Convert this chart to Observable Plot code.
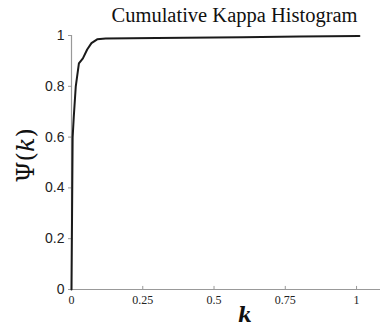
<!DOCTYPE html>
<html><head><meta charset="utf-8">
<script src="https://cdn.jsdelivr.net/npm/d3@7"></script>
<script src="https://cdn.jsdelivr.net/npm/@observablehq/plot@0.6"></script>
<style>body{margin:0;background:#fff}</style>
</head><body><div id="chart"></div>
<script>
const kappa = [0, 0.002, 0.004, 0.008, 0.015, 0.026, 0.04, 0.055, 0.07, 0.09, 0.12, 0.3, 0.6, 0.8, 1.01];
const psi   = [0, 0.3, 0.6, 0.68, 0.8, 0.89, 0.91, 0.945, 0.97, 0.985, 0.988, 0.99, 0.993, 0.996, 0.998];
const xTicks = [0, 0.25, 0.5, 0.75, 1];
const xTickLabels = ["0", "0.25", "0.5", "0.75", "1"];
const yTicks = [0, 0.2, 0.4, 0.6, 0.8, 1];
const yTickLabels = ["0", "0.2", "0.4", "0.6", "0.8", "1"];
const title = "Cumulative Kappa Histogram";
const yLabel = "Ψ(k)";
const xLabel = "k";
const data = kappa.map((k, i) => ({k, p: psi[i]}));

const chart = Plot.plot({
  width: 380, height: 327,
  marginLeft: 71, marginRight: 0, marginTop: 35, marginBottom: 38,
  x: {type: "linear", domain: [0, 1.084]},
  y: {type: "linear", domain: [0, 1]},
  marks: [
    Plot.ruleY([0], {stroke: "#999", strokeWidth: 1.2}),
    Plot.ruleX([0], {stroke: "#999", strokeWidth: 1.2}),
    Plot.ruleX(xTicks, {x: d => d, y1: 0, y2: 0.012, stroke: "#999", strokeWidth: 1}),
    Plot.axisX({ticks: xTicks, tickFormat: (d) => xTickLabels[xTicks.indexOf(d)], tickSize: 0, tickPadding: 6,
      fontFamily: "Liberation Serif", fontSize: 12, fill: "#222", label: null}),
    Plot.axisY({ticks: yTicks, tickFormat: (d) => yTickLabels[yTicks.indexOf(d)], tickSize: 3, tickPadding: 4,
      stroke: "#999", fontFamily: "Liberation Sans", fontSize: 14, fill: "#222", label: null}),
    Plot.line(data, {x: "k", y: "p", stroke: "#1a1a1a", strokeWidth: 2}),
    Plot.text([title], {frameAnchor: "top-right", dx: -23, dy: -28, fontFamily: "Liberation Serif", fontSize: 20.5, fill: "#111", textAnchor: "end"}),
    Plot.text([yLabel], {frameAnchor: "left", dx: -45, dy: 20, rotate: -90, fontFamily: "DejaVu Serif", fontSize: 24, fill: "#111"}),
    Plot.text([xLabel], {frameAnchor: "bottom", dx: 19, dy: 32, fontFamily: "DejaVu Serif", fontStyle: "italic", fontWeight: "bold", fontSize: 20, fill: "#111"})
  ]
});
document.getElementById("chart").append(chart);
// italicise the k inside Ψ(k)
d3.select(chart).selectAll("text").filter(function(){ return this.textContent === yLabel; }).each(function(){
  const t = d3.select(this);
  t.text(null);
  t.append("tspan").text("Ψ(");
  t.append("tspan").attr("font-style", "italic").text("k");
  t.append("tspan").text(")");
});
</script>
</body></html>
